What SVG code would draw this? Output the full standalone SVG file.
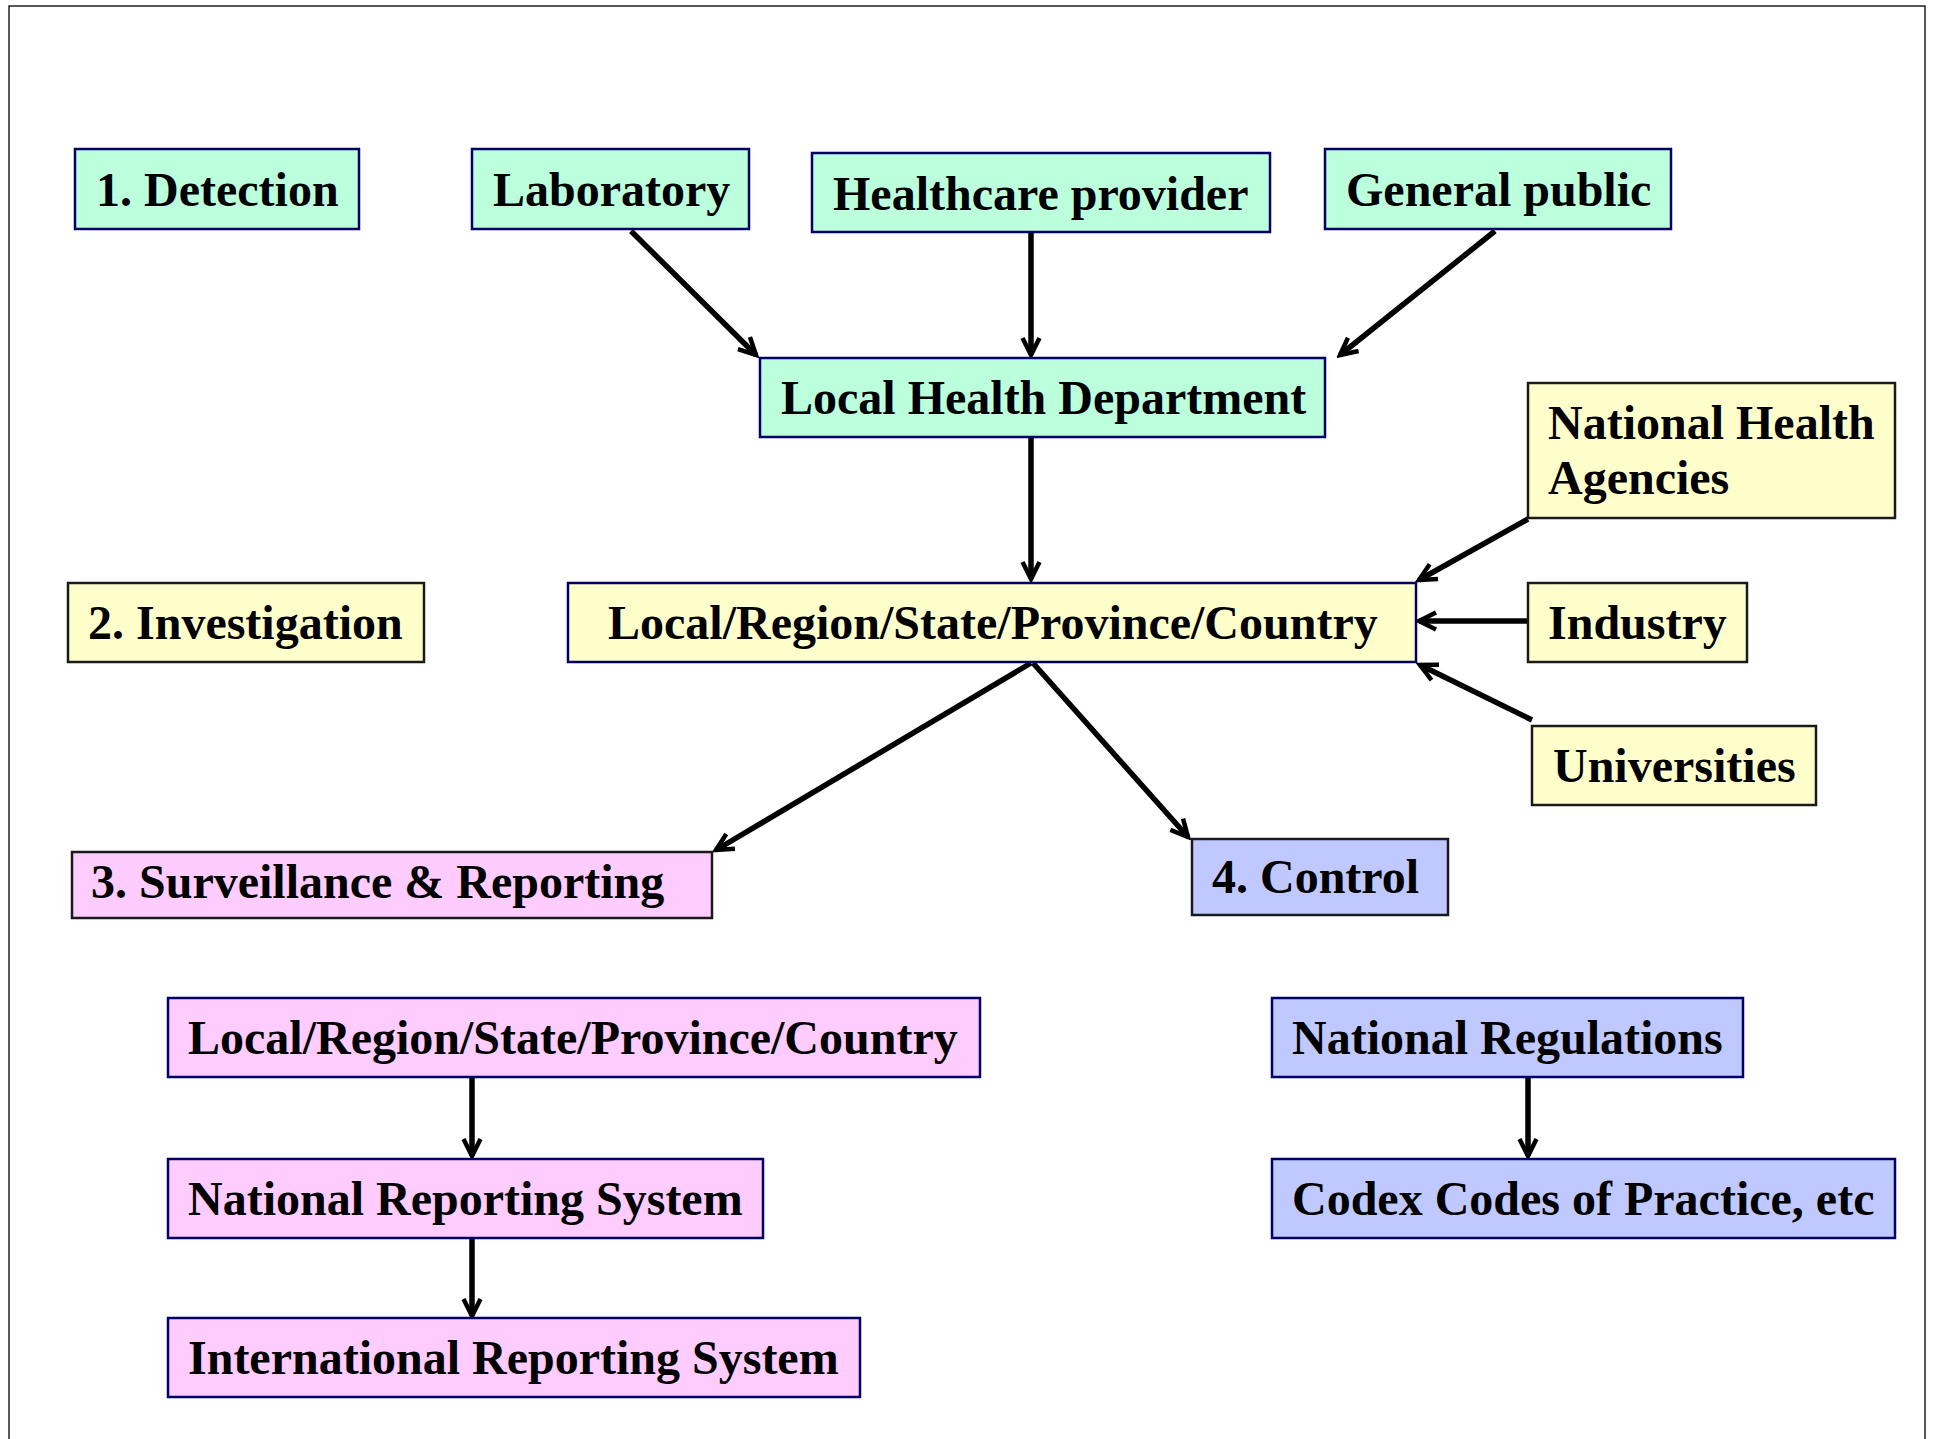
<svg xmlns="http://www.w3.org/2000/svg" width="1937" height="1439" viewBox="0 0 1937 1439">
  <style>
    .box { stroke-width: 2.5; }
    .mint { fill: #bbffdd; stroke: #000066; }
    .yel { fill: #ffffcc; stroke: #1a1a1a; }
    .yeln { fill: #ffffcc; stroke: #000066; }
    .pink { fill: #ffccff; stroke: #1a1a1a; }
    .pinkn { fill: #ffccff; stroke: #000066; }
    .blue { fill: #bfc8ff; stroke: #1a1a1a; }
    .bluen { fill: #bfc8ff; stroke: #000066; }
    text { font-family: "Liberation Serif", "Times New Roman", serif; font-weight: bold; font-size: 48px; fill: #000; }
    .edge { stroke: #000; stroke-width: 5.5; fill: none; marker-end: url(#arrow); }
  </style>
  <defs>
    <marker id="arrow" viewBox="0 0 24 24" refX="20" refY="12" markerWidth="24" markerHeight="24" markerUnits="userSpaceOnUse" orient="auto">
      <path d="M3,3.5 L20,12 L3,20.5" fill="none" stroke="#000" stroke-width="4.5" stroke-linejoin="miter"/>
    </marker>
  </defs>

  <rect width="1937" height="1439" fill="#fff"/>
  <!-- page frame -->
  <path d="M9,1439 V6 H1925 V1439" fill="none" stroke="#222" stroke-width="1.5"/>

  <g id="connectors">
    <path class="edge" d="M631,231 L756,355"/>
    <path class="edge" d="M1031,232 L1031,355"/>
    <path class="edge" d="M1495,231 L1340,355"/>
    <path class="edge" d="M1031,437 L1031,579"/>
    <path class="edge" d="M1528,519 L1419,580"/>
    <path class="edge" d="M1528,621 L1419,621"/>
    <path class="edge" d="M1532,720 L1420,665"/>
    <path class="edge" d="M1031,663 L716,850"/>
    <path class="edge" d="M1033,663 L1188,837"/>
    <path class="edge" d="M472,1078 L472,1156"/>
    <path class="edge" d="M472,1239 L472,1316"/>
    <path class="edge" d="M1528,1078 L1528,1156"/>
  </g>

  <g id="detection">
    <rect class="box mint" x="75" y="149" width="284" height="80"/>
    <text x="96" y="206">1. Detection</text>
  </g>
  <g id="laboratory">
    <rect class="box mint" x="472" y="149" width="277" height="80"/>
    <text x="493" y="206">Laboratory</text>
  </g>
  <g id="healthcare-provider">
    <rect class="box mint" x="812" y="153" width="458" height="79"/>
    <text x="833" y="210">Healthcare provider</text>
  </g>
  <g id="general-public">
    <rect class="box mint" x="1325" y="149" width="346" height="80"/>
    <text x="1346" y="206">General public</text>
  </g>
  <g id="local-health-department">
    <rect class="box mint" x="760" y="358" width="565" height="79"/>
    <text x="781" y="414">Local Health Department</text>
  </g>
  <g id="national-health-agencies">
    <rect class="box yel" x="1528" y="383" width="367" height="135"/>
    <text x="1548" y="439">National Health</text>
    <text x="1548" y="494">Agencies</text>
  </g>
  <g id="investigation">
    <rect class="box yel" x="68" y="583" width="356" height="79"/>
    <text x="88" y="639">2. Investigation</text>
  </g>
  <g id="local-region-investigation">
    <rect class="box yeln" x="568" y="583" width="848" height="79"/>
    <text x="608" y="639">Local/Region/State/Province/Country</text>
  </g>
  <g id="industry">
    <rect class="box yel" x="1528" y="583" width="219" height="79"/>
    <text x="1548" y="639">Industry</text>
  </g>
  <g id="universities">
    <rect class="box yel" x="1532" y="726" width="284" height="79"/>
    <text x="1553" y="782">Universities</text>
  </g>
  <g id="surveillance-reporting">
    <rect class="box pink" x="72" y="852" width="640" height="66"/>
    <text x="91" y="898">3. Surveillance &amp; Reporting</text>
  </g>
  <g id="control">
    <rect class="box blue" x="1192" y="839" width="256" height="76"/>
    <text x="1212" y="893">4. Control</text>
  </g>
  <g id="local-region-reporting">
    <rect class="box pinkn" x="168" y="998" width="812" height="79"/>
    <text x="188" y="1054">Local/Region/State/Province/Country</text>
  </g>
  <g id="national-reporting-system">
    <rect class="box pinkn" x="168" y="1159" width="595" height="79"/>
    <text x="188" y="1215">National Reporting System</text>
  </g>
  <g id="international-reporting-system">
    <rect class="box pinkn" x="168" y="1318" width="692" height="79"/>
    <text x="188" y="1374">International Reporting System</text>
  </g>
  <g id="national-regulations">
    <rect class="box bluen" x="1272" y="998" width="471" height="79"/>
    <text x="1292" y="1054">National Regulations</text>
  </g>
  <g id="codex-codes">
    <rect class="box bluen" x="1272" y="1159" width="623" height="79"/>
    <text x="1292" y="1215">Codex Codes of Practice, etc</text>
  </g>
</svg>
